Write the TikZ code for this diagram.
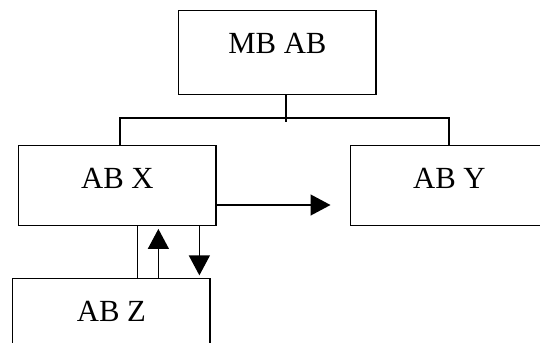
\documentclass[tikz,border=0pt]{standalone}
\usepackage{fontspec}
\setmainfont{Liberation Serif}
\usetikzlibrary{arrows.meta,calc}

\tikzset{
	unitbox/.style={draw, line width=0.75pt, inner sep=0pt, anchor=north west,
		minimum width=3.95cm, text height=0.86cm, text depth=0.74cm,
		font=\fontsize{17.5}{21}\selectfont},
	link/.style={line width=0.75pt},
	flow/.style={line width=0.75pt, -{Triangle[length=0.4cm,width=0.42cm]}}
}

\begin{document}
\begin{tikzpicture}[x=0.02cm, y=-0.02cm]
				\useasboundingbox (0,0) rectangle (540,342);
				\clip (0,0) rectangle (540,342);
				
				% Boxes
				\node[unitbox, text depth=0.82cm] (mb) at (178,10) {MB AB};
				\node[unitbox] (abx) at (18,145) {AB X};
				\node[unitbox] (aby) at (350,145) {AB Y};
				\node[unitbox] (abz) at (12,278) {AB Z};
				
				% Tree lines
				\coordinate (bus) at (286,118);
				\coordinate (busL) at (120,118);
				\coordinate (busR) at (449,118);
				\draw[link] (mb.south -| bus) -- ($(bus)+(0,4)$);
				\draw[link] (abx.north -| busL) |- (busR) -- (aby.north -| busR);
				
				% X to Y
				\coordinate (side) at (0,205);
				\draw[flow, shorten >=0.39cm] (abx.east |- side) -- (aby.west |- side);
				
				% X and Z
				\draw[link] ([xshift=0.4cm]abx.south) -- ([xshift=0.4cm]abx.south |- abz.north);
				\draw[flow, shorten >=1.5pt] ([xshift=0.82cm]abx.south |- abz.north) -- ([xshift=0.82cm]abx.south);
				\draw[flow, shorten >=1.5pt] ([xshift=1.64cm]abx.south) -- ([xshift=1.64cm]abx.south |- abz.north);
\end{tikzpicture}
\end{document}
